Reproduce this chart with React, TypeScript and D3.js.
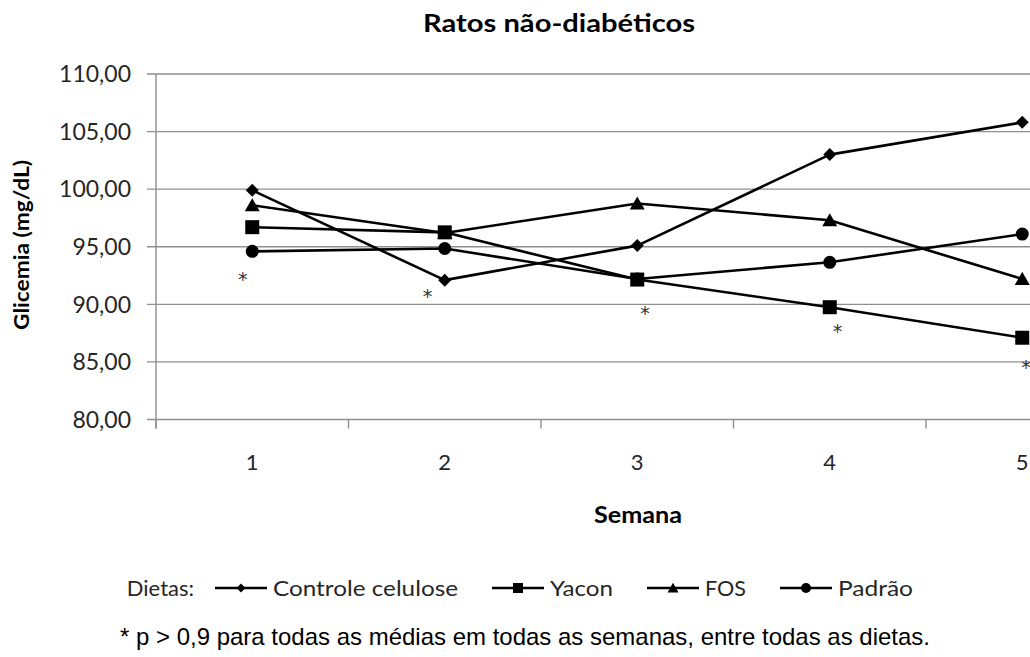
import React from "react";
import * as d3 from "d3";

const width = 1030;
const height = 657;
const margin = { top: 74, left: 156, bottom: 419.5 };

// semanas e médias de glicemia (mg/dL) por dieta
const weeks = [1, 2, 3, 4, 5];
const yTicks = [80, 85, 90, 95, 100, 105, 110];
const controle = [99.9, 92.1, 95.1, 103.0, 105.8];
const yacon = [96.7, 96.25, 92.15, 89.75, 87.1];
const fos = [98.6, 96.2, 98.75, 97.3, 92.2];
const padrao = [94.6, 94.85, 92.2, 93.65, 96.1];
const seriesNames = ["Controle celulose", "Yacon", "FOS", "Padrão"];
const seriesShapes = ["diamond", "square", "triangle", "circle"];
// asteriscos (posição em semana / valor)
const noteWeeks = [0.95, 1.91, 3.04, 4.04, 5.02];
const noteValues = [92.55, 91.1, 89.6, 88.0, 84.9];

const calibri = "Lato, 'Open Sans', sans-serif";
const arial = "'Liberation Sans', Arial, sans-serif";
const grid = "#8f8f8f";
const textCol = "#262626";

function marker(shape: string, r: number) {
  if (shape === "diamond") return `M0,${-r}L${r},0L0,${r}L${-r},0Z`;
  if (shape === "square") return `M${-r},${-r}H${r}V${r}H${-r}Z`;
  if (shape === "triangle") return `M0,${-r * 0.95}L${r},${r * 0.8}L${-r},${r * 0.8}Z`;
  return d3.symbol(d3.symbolCircle, Math.PI * r * r)() as string;
}

export default function App() {
  const series = [controle, yacon, fos, padrao];
  const x = d3.scaleLinear().domain([0.5, 5.5]).range([margin.left, 1118.5]);
  const y = d3.scaleLinear().domain([80, 110]).range([margin.bottom, margin.top]);
  const line = d3
    .line<number>()
    .x((_, i) => x(weeks[i]))
    .y((d) => y(d));
  const fmt = (v: number) => v.toFixed(2).replace(".", ",");
  const bounds = d3.range(0.5, 5.5, 1);
  const markerOrder = [0, 2, 3, 1];
  const markerSize = [6.5, 7, 7.5, 6.5];
  const legendSize = [4.5, 5, 5.5, 5];

  // legenda
  const labelW = [185, 63, 41, 75];
  const legendItems: { lx: number; tx: number }[] = [];
  let cur = 215;
  labelW.forEach((w) => {
    legendItems.push({ lx: cur, tx: cur + 58 });
    cur = cur + 58 + w + 34;
  });
  const legendY = 588;

  return (
    <svg width={width} height={height} style={{ position: "absolute", left: 0, top: 0, background: "#fff" }}>
      <rect width={width} height={height} fill="#fff" />
      <text x={559} y={32} textAnchor="middle" fontFamily={calibri} fontWeight="bold" fontSize={25} fill="#000" textLength={272} lengthAdjust="spacingAndGlyphs">
        Ratos não-diabéticos
      </text>

      {yTicks.map((t) => (
        <g key={t}>
          <line x1={margin.left - 9} x2={1118.5} y1={y(t)} y2={y(t)} stroke={grid} strokeWidth={1.4} />
          <text x={131} y={y(t)} dy="0.36em" textAnchor="end" fontFamily={calibri} fontSize={23} fill={textCol}>
            {fmt(t)}
          </text>
        </g>
      ))}
      <line x1={margin.left} x2={margin.left} y1={margin.top} y2={margin.bottom + 9} stroke={grid} strokeWidth={1.4} />
      {bounds.map((b) => (
        <line key={b} x1={x(b)} x2={x(b)} y1={margin.bottom} y2={margin.bottom + 9} stroke={grid} strokeWidth={1.4} />
      ))}
      {weeks.map((w) => (
        <text key={w} x={x(w)} y={470} textAnchor="middle" fontFamily={calibri} fontSize={22} fill={textCol}>
          {w}
        </text>
      ))}

      <text transform={`translate(29,245) rotate(-90)`} textAnchor="middle" fontFamily={calibri} fontWeight="bold" fontSize={21} fill="#000" textLength={170} lengthAdjust="spacingAndGlyphs">
        Glicemia (mg/dL)
      </text>
      <text x={638} y={523} textAnchor="middle" fontFamily={calibri} fontWeight="bold" fontSize={23} fill="#000" textLength={88} lengthAdjust="spacingAndGlyphs">
        Semana
      </text>

      {series.map((s, i) => (
        <path key={i} d={line(s) as string} fill="none" stroke="#000" strokeWidth={2.6} strokeLinejoin="round" />
      ))}
      {markerOrder.map((si) =>
        series[si].map((v, i) => (
          <path key={`${si}-${i}`} d={marker(seriesShapes[si], markerSize[si])} transform={`translate(${x(weeks[i])},${y(v)})`} fill="#000" />
        ))
      )}

      {noteWeeks.map((w, i) => (
        <text key={i} x={x(w)} y={y(noteValues[i]) + 11} textAnchor="middle" fontFamily="'DejaVu Sans', sans-serif" fontSize={19} fill="#333">
          *
        </text>
      ))}

      <text x={194} y={legendY + 8} textAnchor="end" fontFamily={calibri} fontSize={22} fill={textCol}>
        Dietas:
      </text>
      {legendItems.map((it, i) => (
        <g key={i}>
          <line x1={it.lx} x2={it.lx + 52} y1={legendY} y2={legendY} stroke="#000" strokeWidth={2.6} />
          <path d={marker(seriesShapes[i], legendSize[i])} transform={`translate(${it.lx + 26},${legendY})`} fill="#000" />
          <text x={it.tx} y={legendY + 8} fontFamily={calibri} fontSize={22} fill={textCol} textLength={labelW[i]} lengthAdjust="spacingAndGlyphs">
            {seriesNames[i]}
          </text>
        </g>
      ))}

      <text x={120} y={645} fontFamily={arial} fontSize={24} fill="#000" textLength={810} lengthAdjust="spacingAndGlyphs">
        * p &gt; 0,9 para todas as médias em todas as semanas, entre todas as dietas.
      </text>
    </svg>
  );
}
